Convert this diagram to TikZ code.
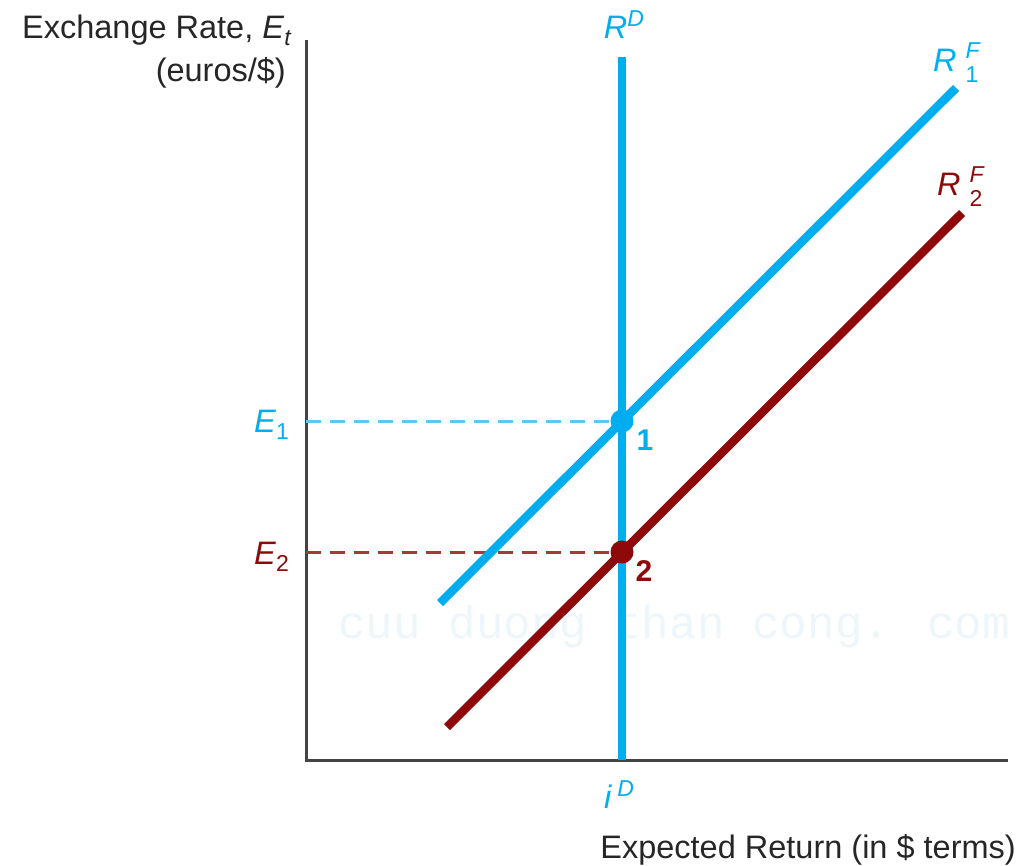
\documentclass[tikz,border=0pt]{standalone}
\usepackage{fontspec}
\setmainfont{Liberation Sans}
\newfontfamily\wmfont{Liberation Mono}
\definecolor{rdblue}{HTML}{00AEEF}
\definecolor{rdlight}{HTML}{5CC8F0}
\definecolor{rfred}{HTML}{8E0A0A}
\definecolor{rfredl}{HTML}{A33A3A}
\definecolor{axisgray}{HTML}{444444}
\definecolor{wmcol}{HTML}{EDF6FB}
\newcommand{\smfont}{\fontsize{23}{23}\selectfont}
\begin{document}
\begin{tikzpicture}[x=1pt,y=-1pt,
  lbl/.style={inner sep=0pt,font=\fontsize{32.5}{38}\selectfont},
  axisline/.style={draw=axisgray,line width=3pt},
  curve/.style={line width=8.5pt},
  guide/.style={line width=3pt,dash pattern=on 15pt off 9pt},
  dot/.style={circle,inner sep=0pt,minimum size=23pt}]
\useasboundingbox (0,0) rectangle (1020,865);
% watermark
\node[inner sep=0pt,anchor=base west,text=wmcol,font=\wmfont\fontsize{46}{46}\selectfont] (wm) at (338,638) {cuu duong than cong. com};
% axes
\coordinate (ytop) at (306,40);
\coordinate (orig) at (306,760);
\coordinate (xend) at (1008,760);
\draw[axisline] (ytop) -- (orig) -- (xend);
% coordinates
\coordinate (rdtop) at (622,57);
\coordinate (rdbot) at (622,760);
\coordinate (r1a) at (440,603);
\coordinate (r1b) at (956,88);
\coordinate (r2a) at (447,727);
\coordinate (r2b) at (962,213);
\coordinate (e1ax) at (306,421);
\coordinate (e2ax) at (306,552);
% guides
\draw[guide,rdlight] (e1ax) -- (622,421);
\draw[guide,rfredl] (e2ax) -- (622,552);
% curves
\draw[curve,rdblue] (rdtop) -- (rdbot);
\draw[curve,rdblue] (r1a) -- (r1b);
\draw[curve,rfred] (r2a) -- (r2b);
% points
\node[dot,fill=rdblue] (p1) at (622,421) {};
\node[dot,fill=rfred] (p2) at (622,552) {};
\node[lbl,text=rdblue,font=\fontsize{30}{34}\selectfont\bfseries] (l1) at (645,440) {1};
\node[lbl,text=rfred,font=\fontsize{30}{34}\selectfont\bfseries] (l2) at (644,571) {2};
% axis labels
\node[lbl,anchor=base east,text=black!85] (ylab1) at (291,38) {Exchange Rate, \textit{E}\raisebox{-7pt}{\smfont\itshape t}};
\node[lbl,anchor=base east,text=black!85] (ylab2) at (286,81) {(euros/\$)};
\node[lbl,anchor=base east,text=black!85] (xlab) at (1016,858) {Expected Return (in \$ terms)};
% tick labels
\node[lbl,anchor=base east,text=rdblue] (e1lab) at (289,432) {\textit{E}\raisebox{-7pt}{\smfont 1}};
\node[lbl,anchor=base east,text=rfred] (e2lab) at (289,564) {\textit{E}\raisebox{-7pt}{\smfont 2}};
\node[lbl,anchor=base,text=rdblue] (idlab) at (619,808) {\textit{i}\,\raisebox{12pt}{\smfont\itshape D}};
\node[lbl,anchor=base,text=rdblue] (rdlab) at (624,38) {\textit{R}\raisebox{12pt}{\smfont\itshape D}};
\node[lbl,anchor=base west,text=rdblue] (r1lab) at (933,71) {\textit{R}\hspace{9pt}\rlap{\raisebox{13pt}{\smfont\itshape F}}\raisebox{-11pt}{\smfont 1}};
\node[lbl,anchor=base west,text=rfred] (r2lab) at (937,195) {\textit{R}\hspace{9pt}\rlap{\raisebox{13pt}{\smfont\itshape F}}\raisebox{-11pt}{\smfont 2}};
\end{tikzpicture}
\end{document}
